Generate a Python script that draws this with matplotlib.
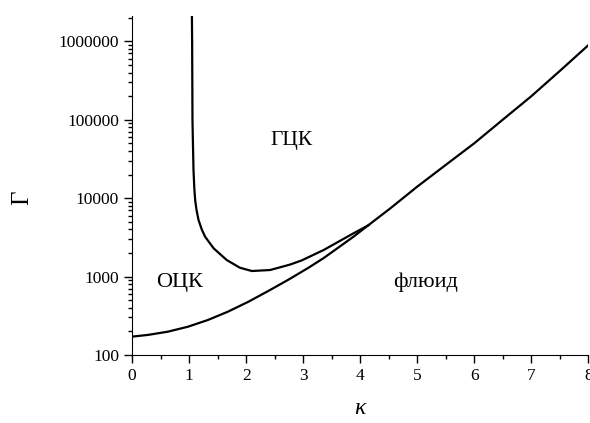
import numpy as np
import matplotlib
matplotlib.use('Agg')
import matplotlib.pyplot as plt
from matplotlib.ticker import LogLocator, NullFormatter, FixedLocator, FuncFormatter

plt.rcParams['font.family'] = ['Liberation Serif', 'DejaVu Serif']

# melting line (fluid / solid)
kappa_melt = [0.0, 0.28, 0.63, 0.98, 1.33, 1.68, 2.04, 2.39, 2.74, 3.09, 3.36, 3.88, 4.03,
              4.53, 5.0, 5.5, 6.0, 6.5, 7.0, 7.5, 8.0]
gamma_melt = [171, 180, 198, 229, 279, 356, 477, 655, 910, 1290, 1720, 3210, 3900,
              7420, 14000, 26500, 50000, 100000, 199000, 418000, 890000]

# bcc / fcc boundary
kappa_bf = [1.048, 1.052, 1.058, 1.065, 1.076, 1.09, 1.105, 1.13, 1.164, 1.22, 1.28, 1.43,
            1.66, 1.89, 2.10, 2.42, 2.77, 2.97, 3.36, 3.88, 4.15]
gamma_bf = [2.1e6, 1e6, 1e5, 54800, 22700, 13500, 9440, 7000, 5260, 4000, 3210, 2285,
            1620, 1294, 1175, 1210, 1420, 1600, 2180, 3550, 4530]

region_labels = ['ГЦК', 'ОЦК', 'флюид']
region_pos = [(2.79, 55000), (0.84, 850), (5.14, 840)]

fig = plt.figure(figsize=(5.9, 4.23), dpi=100)
ax = fig.add_axes([0.224, 0.161, 0.773, 0.801])

ax.plot(kappa_melt, gamma_melt, color='black', lw=1.6, solid_joinstyle='round')
ax.plot(kappa_bf, gamma_bf, color='black', lw=1.6, solid_joinstyle='round')

ax.set_yscale('log')
ax.set_xlim(0, 8)
ax.set_ylim(100, 2.1e6)

ax.spines['top'].set_visible(False)
ax.spines['right'].set_visible(False)

ax.xaxis.set_major_locator(FixedLocator(range(0, 9)))
ax.xaxis.set_minor_locator(FixedLocator(np.arange(0.5, 8, 1.0)))
ax.yaxis.set_major_locator(LogLocator(base=10, numticks=10))
ax.yaxis.set_minor_locator(LogLocator(base=10, subs=np.arange(2, 10), numticks=20))
ax.yaxis.set_major_formatter(FuncFormatter(lambda v, p: '%d' % round(v)))
ax.yaxis.set_minor_formatter(NullFormatter())

ax.tick_params(which='major', direction='out', length=6, width=1, labelsize=12.5)
ax.tick_params(which='minor', direction='out', length=3, width=1)

sizes = [15.5, 16, 16]
for txt, (kx, gy), fs in zip(region_labels, region_pos, sizes):
    ax.text(kx, gy, txt, fontsize=fs, ha='center', va='center')

fig.text(0.037, 0.532, 'Γ', fontsize=18, rotation=90, ha='center', va='center')
ax.set_xlabel('κ', fontsize=17, style='italic', labelpad=10)

fig.savefig('out.png', dpi=100)
